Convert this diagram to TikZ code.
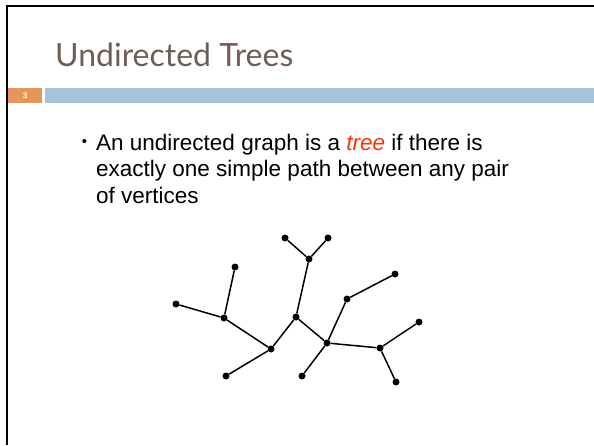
\documentclass[tikz,border=0pt]{standalone}
\usepackage{fontspec}
\setmainfont{Liberation Sans}
\newfontfamily\titlefont{Lato}
\usetikzlibrary{positioning}

\definecolor{titlebrown}{RGB}{112,92,84}
\definecolor{barorange}{RGB}{230,150,92}
\definecolor{barblue}{RGB}{166,195,219}
\definecolor{treered}{RGB}{255,51,0}

\begin{document}
\begin{tikzpicture}[
  x=1pt, y=-1pt,
  vertex/.style={circle, fill=black, inner sep=0pt, minimum size=7pt},
  edge/.style={line width=1.5pt},
  title/.style={anchor=base west, inner sep=0pt,
    font=\titlefont\fontsize{32}{38}\selectfont, text=titlebrown},
  body/.style={anchor=base west, inner sep=0pt, align=left,
    font=\fontsize{22.5}{26.5}\selectfont},
]
\useasboundingbox (0,0) rectangle (594,445);

% slide frame, header and bars
\draw[line width=2pt] (7,445) -- (7,6) -- (594,6);
\node[title] (ttl) at (55,66) {Undirected Trees};
\fill[barorange] (8,88) rectangle (41.5,103);
\fill[barblue] (45,88) rectangle (594,103);
\node[font=\fontsize{8}{8}\selectfont\bfseries, text=white] (num) at (25,95.5) {3};

% bullet text (anchored at the baseline of its last line)
\node[body] (txt) at (96,203) {An undirected graph is a \textcolor{treered}{\textit{tree}} if there is\\
  exactly one simple path between any pair\\
  of vertices};
\node[inner sep=0pt, font=\fontsize{15}{15}\selectfont] (dot) at (84.5,143) {\textbullet};

% the tree
\node[vertex] (v1)  at (285,238) {};
\node[vertex] (v2)  at (328,238) {};
\node[vertex] (v3)  at (309,259) {};
\node[vertex] (v4)  at (235,267) {};
\node[vertex] (v5)  at (395,274) {};
\node[vertex] (v6)  at (347,299) {};
\node[vertex] (v7)  at (176,304) {};
\node[vertex] (v8)  at (224,318) {};
\node[vertex] (v9)  at (296,317) {};
\node[vertex] (v10) at (419,322) {};
\node[vertex] (v11) at (327,343) {};
\node[vertex] (v12) at (271,349) {};
\node[vertex] (v13) at (380,348) {};
\node[vertex] (v14) at (226,376) {};
\node[vertex] (v15) at (302,376) {};
\node[vertex] (v16) at (396,382) {};

\draw[edge] (v1) -- (v3) -- (v2);
\draw[edge] (v3) -- (v9) -- (v12);
\draw[edge] (v4) -- (v8) -- (v7);
\draw[edge] (v8) -- (v12) -- (v14);
\draw[edge] (v9) -- (v11) -- (v6) -- (v5);
\draw[edge] (v15) -- (v11) -- (v13) -- (v10);
\draw[edge] (v13) -- (v16);

\end{tikzpicture}
\end{document}
